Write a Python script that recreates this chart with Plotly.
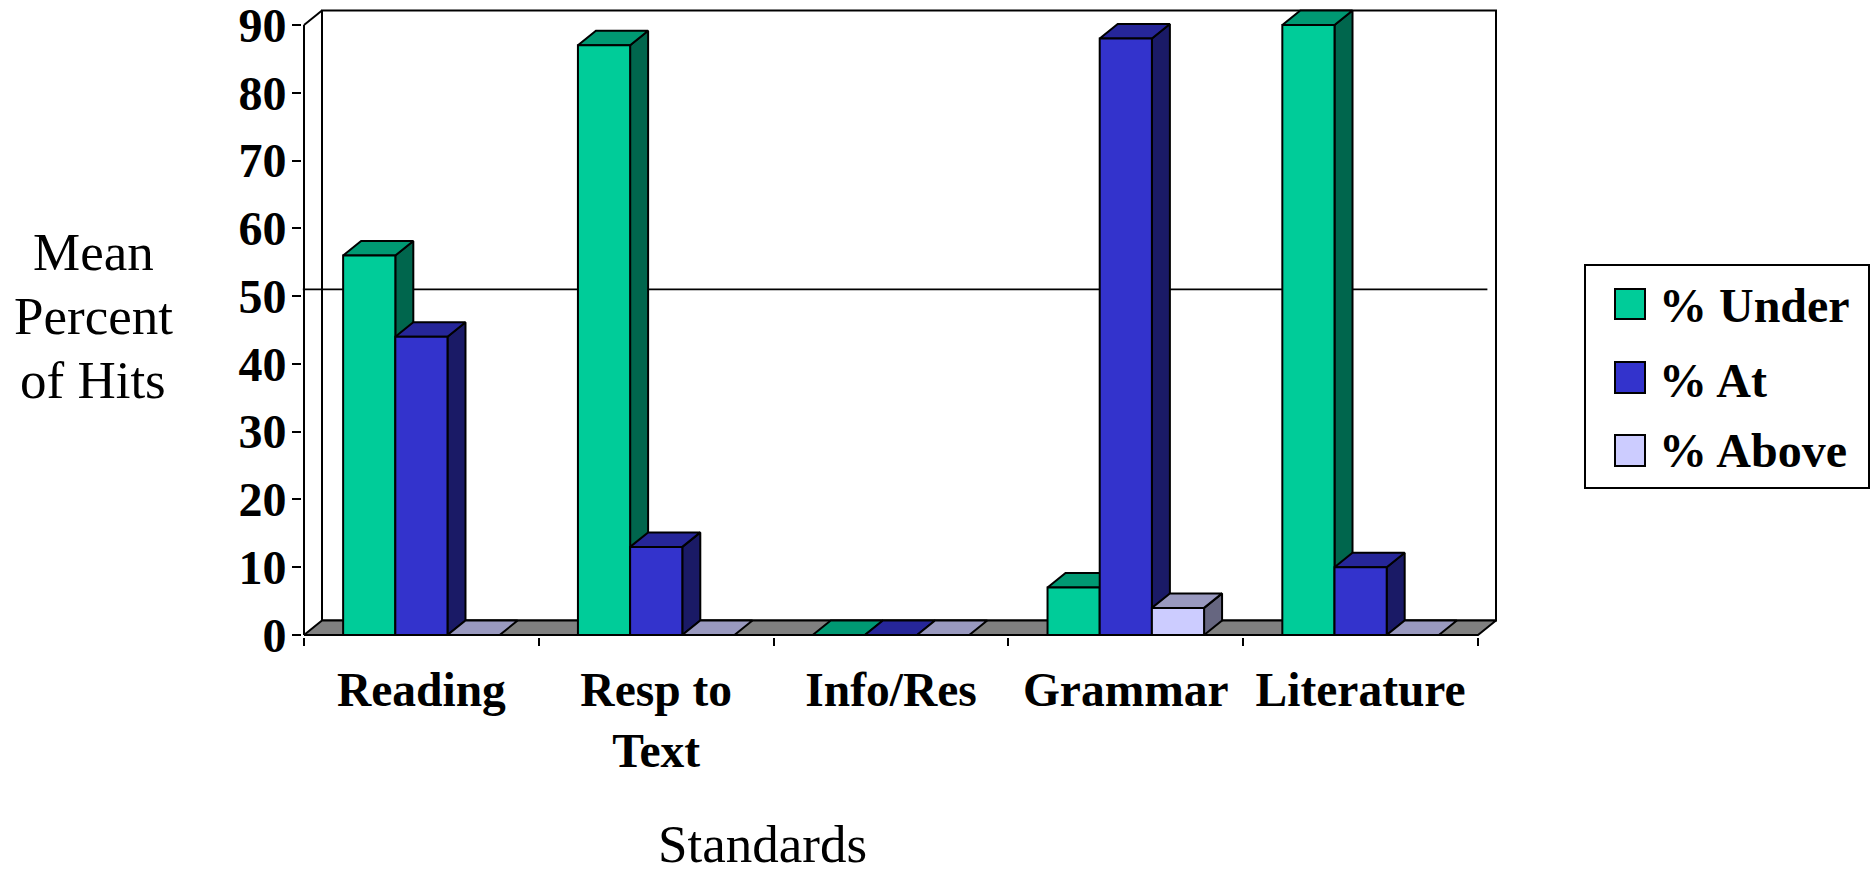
import plotly.graph_objects as go

# ---- data ----
categories = ["Reading", "Resp to<br>Text", "Info/Res", "Grammar", "Literature"]
pct_under = [56, 87, 0, 7, 90]
pct_at = [44, 13, 0, 88, 10]
pct_above = [0, 0, 0, 4, 0]
series_names = ["% Under", "% At", "% Above"]
benchmark = 51
y_ticks = list(range(0, 100, 10))

# ---- style ----
front_colors = ["#00CC99", "#3333CC", "#CCCCFF"]
side_colors = ["#00664D", "#1A1A66", "#666680"]
top_colors = ["#009973", "#262699", "#9999BF"]
FLOOR = "#808080"
FONT = "Liberation Serif"
W, H = 1875, 869
L, R, T, B = 304, 1478, 25, 635      # pixel box of the front plane (0..5, 0..90)
X0, X1, Y0, Y1 = 302, 1498, 9, 637   # subplot box, large enough for the depth faces
PX_X = (R - L) / 5
PX_Y = (B - T) / 90
DX = 18 / PX_X
DY = 14.5 / PX_Y
LW = 2
GAP = 1 / 3
BAR_W = (1 - GAP) / 3
ALL = [pct_under, pct_at, pct_above]
N = len(categories)
x_range = [(X0 - L) / PX_X, (X1 - L) / PX_X]
y_range = [(B - Y1) / PX_Y, (B - Y0) / PX_Y]


def px(x):
    return (x - X0) / (X1 - X0)


def py(y):
    return (Y1 - y) / (Y1 - Y0)


def poly(xs, ys, fill):
    return go.Scatter(
        x=xs + xs[:1], y=ys + ys[:1], mode="lines", fill="toself", fillcolor=fill,
        line=dict(color="black", width=LW), hoverinfo="skip", showlegend=False,
        xaxis="x", yaxis="y",
    )


def seg(xs, ys, width=LW):
    return go.Scatter(x=xs, y=ys, mode="lines", line=dict(color="black", width=width),
                      hoverinfo="skip", showlegend=False, xaxis="x", yaxis="y")


fig = go.Figure()

# back wall and floor
fig.add_trace(poly([DX, N + DX, N + DX, DX], [DY, DY, 90 + DY, 90 + DY], "white"))
fig.add_trace(seg([0, DX], [90, 90 + DY]))
fig.add_trace(seg([0, 0], [0, 90]))
fig.add_trace(poly([0, N, N + DX, DX], [0, 0, DY, DY], FLOOR))

# reference line behind the bars
fig.add_trace(seg([-0.005, 5.04], [benchmark, benchmark], 1.6))

# depth faces of the bars
for i in range(N):
    for s, vals in enumerate(ALL):
        v = vals[i]
        left = i + GAP / 2 + s * BAR_W
        right = left + BAR_W
        if v > 0:
            fig.add_trace(poly([right, right + DX, right + DX, right],
                               [0, DY, v + DY, v], side_colors[s]))
        fig.add_trace(poly([left, right, right + DX, left + DX],
                           [v, v, v + DY, v + DY], top_colors[s]))

# front faces, on an overlaying subplot so they sit over every depth face
centers = [i + 0.5 for i in range(N)]
for s, vals in enumerate(ALL):
    fig.add_trace(go.Bar(
        x=centers, y=vals, name=series_names[s], xaxis="x2", yaxis="y2",
        marker=dict(color=front_colors[s], line=dict(color="black", width=LW)),
        showlegend=False,
    ))

annotations = []


def text(x, y, s, size, bold=False, anchor="center"):
    annotations.append(dict(
        x=px(x), y=py(y), xref="paper", yref="paper", text=f"<b>{s}</b>" if bold else s,
        showarrow=False, xanchor=anchor, yanchor="middle", borderpad=0,
        font=dict(family=FONT, size=size, color="black"),
    ))


for yy, line in zip([252, 316, 380], ["Mean", "Percent", "of Hits"]):
    text(93, yy, line, 53)
text(762, 844, "Standards", 53)

# hand-built legend (large swatches)
shapes = [dict(type="rect", xref="paper", yref="paper", x0=px(1585), x1=px(1869),
               y0=py(265), y1=py(488), line=dict(color="black", width=LW), fillcolor="white")]
for s, (y0, y1, ty) in enumerate([(289, 319, 305), (362, 393, 380), (435, 466, 450)]):
    shapes.append(dict(type="rect", xref="paper", yref="paper", x0=px(1615), x1=px(1645),
                       y0=py(y0), y1=py(y1), line=dict(color="black", width=LW),
                       fillcolor=front_colors[s]))
    text(1658, ty, series_names[s], 48, bold=True, anchor="left")

fig.update_layout(
    width=W, height=H, autosize=False,
    margin=dict(l=X0, r=W - X1, t=Y0, b=H - Y1, pad=0, autoexpand=False),
    paper_bgcolor="white", plot_bgcolor="rgba(0,0,0,0)",
    barmode="group", bargap=GAP, bargroupgap=0,
    showlegend=False, shapes=shapes, annotations=annotations,
    xaxis=dict(range=x_range, tickvals=list(range(N + 1)), ticks="outside", ticklen=8,
               tickwidth=LW, tickcolor="black", showticklabels=False, showgrid=False,
               zeroline=False, showline=False),
    yaxis=dict(range=y_range, tickvals=y_ticks, ticks="outside", ticklen=9, tickwidth=LW,
               tickcolor="black", showgrid=False, zeroline=False, showline=False,
               ticklabeloverflow="allow", ticklabelstandoff=-4,
               tickfont=dict(family=FONT, size=48, color="black", weight="bold")),
    xaxis2=dict(range=x_range, overlaying="x", anchor="y2", side="bottom", tickvals=centers,
                ticktext=categories, ticks="", showgrid=False, zeroline=False, showline=False,
                tickangle=0, ticklabelstandoff=20, ticklabeloverflow="allow",
                tickfont=dict(family=FONT, size=47.5, color="black", weight="bold")),
    yaxis2=dict(range=y_range, overlaying="y", anchor="x2", visible=False),
)

fig.write_html("out.html", config=dict(displayModeBar=False),
               post_script="document.body.style.margin='0';document.body.style.overflow='hidden';")
